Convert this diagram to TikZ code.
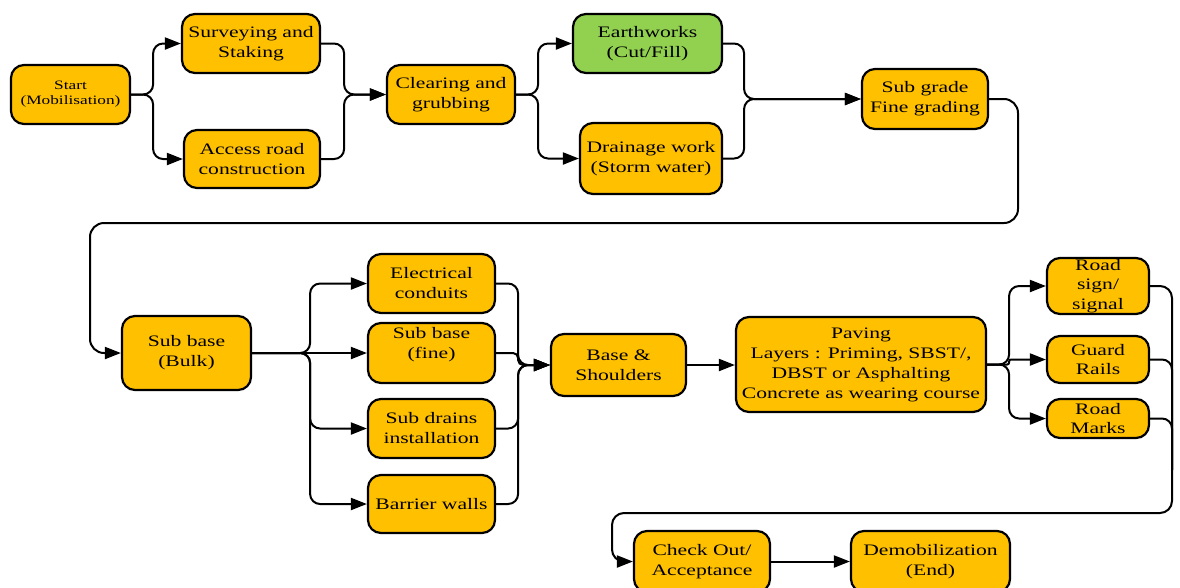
\documentclass[tikz,border=0pt]{standalone}
\usepackage{fontspec}
\setmainfont{Liberation Serif}[FakeStretch=1.35]
\usetikzlibrary{arrows.meta}
\definecolor{boxorange}{RGB}{255,192,0}
\definecolor{boxgreen}{RGB}{146,208,80}
\begin{document}
\begin{tikzpicture}[x=1pt,y=-1pt,
  box/.style={draw=black, line width=2.2pt, fill=boxorange, rounded corners=13pt,
    align=center, inner sep=0pt, text=black, font=\fontsize{16}{20}\selectfont},
  flow/.style={draw=black, line width=2pt, rounded corners=10pt,
    -{Triangle[length=16pt,width=12pt]}},
  link/.style={draw=black, line width=2pt, rounded corners=10pt}]
\useasboundingbox (0,0) rectangle (1180,587);

% ---- first row ----
\node[box, minimum width=119pt, minimum height=59pt, font=\fontsize{12.8}{15}\selectfont]
  (start) at (70.5,94.5) {Start\\(Mobilisation)};
\node[box, minimum width=138pt, minimum height=59pt] (survey) at (251,43.5) {Surveying and\\Staking};
\node[box, minimum width=136pt, minimum height=58pt] (access) at (252,159) {Access road\\construction};
\node[box, minimum width=128pt, minimum height=59pt] (clear) at (451,94.5) {Clearing and\\grubbing};
\node[box, fill=boxgreen, minimum width=149pt, minimum height=59pt] (earth) at (647.5,43.5) {Earthworks\\(Cut/Fill)};
\node[box, minimum width=142pt, minimum height=71pt] (drain) at (651,158.5) {Drainage work\\(Storm water)};
\node[box, minimum width=126pt, minimum height=60pt] (subgrade) at (925,99) {Sub grade\\Fine grading};

% ---- second row ----
\node[box, minimum width=129pt, minimum height=74pt] (bulk) at (186.5,353) {Sub base\\(Bulk)};
\node[box, minimum width=127pt, minimum height=59pt] (elec) at (431.5,283.5) {Electrical\\conduits};
\node[box, minimum width=127pt, minimum height=60pt] (fine) at (431.5,353) {Sub base\\(fine)\\\mbox{}};
\node[box, minimum width=127pt, minimum height=59pt] (drains) at (431.5,428.5) {Sub drains\\installation};
\node[box, minimum width=127pt, minimum height=58pt] (barrier) at (431.5,504) {Barrier walls};
\node[box, minimum width=135pt, minimum height=62pt] (base) at (618.5,365) {Base \&\\Shoulders};
\node[box, minimum width=250pt, minimum height=95pt] (paving) at (861,364.5)
  {Paving\\Layers : Priming, SBST/,\\DBST or Asphalting\\Concrete as wearing course};
\node[box, minimum width=102pt, minimum height=56pt, font=\fontsize{16}{19.5}\selectfont] (sign) at (1098,286) {Road\\sign/\\signal};
\node[box, minimum width=102pt, minimum height=47pt, font=\fontsize{16}{19}\selectfont] (guard) at (1098,359.5) {Guard\\Rails};
\node[box, minimum width=102pt, minimum height=39pt, font=\fontsize{16}{19}\selectfont] (marks) at (1098,418.5) {Road\\Marks};

% ---- third row ----
\node[box, minimum width=136pt, minimum height=61pt] (check) at (702,561.5) {Check Out/\\Acceptance};
\node[box, minimum width=159pt, minimum height=61pt] (demob) at (930.5,561.5) {Demobilization\\(End)};

% ---- connectors, first row ----
\draw[flow] (start.east) -- ++(22,0) |- (survey.west);
\draw[flow] (start.east) -- ++(22,0) |- (access.west);
\draw[flow] (survey.east) -- ++(23,0) |- (clear.west);
\draw[flow] (access.east) -- ++(23,0) |- (clear.west);
\draw[flow] (clear.east) -- ++(22,0) |- (earth.west);
\draw[flow] (clear.east) -- ++(22,0) |- (drain.west);
\draw[flow] (earth.east) -- ++(21,0) |- (subgrade.west);
\draw[flow] (drain.east) -- ++(21,0) |- (subgrade.west);

% return from the first row to the second
\coordinate (loopA) at (1018,223);
\coordinate (loopB) at (90,353);
\draw[flow, rounded corners=14pt] (subgrade.east) -| (loopA) -| (loopB) -- (bulk.west);

% ---- connectors, second row ----
\draw[flow] (bulk.east) -- ++(58,0) |- (elec.west);
\draw[flow] (bulk.east) -- (fine.west);
\draw[flow] (bulk.east) -- ++(58,0) |- (drains.west);
\draw[flow] (bulk.east) -- ++(58,0) |- (barrier.west);
\draw[flow] (elec.east) -- ++(22,0) |- (base.west);
\draw[flow, rounded corners=5pt] (fine.east) -- ++(22,0) |- (base.west);
\draw[flow] (drains.east) -- ++(22,0) |- (base.west);
\draw[flow] (barrier.east) -- ++(22,0) |- (base.west);
\draw[flow] (base.east) -- (paving.west |- base.east);
\draw[flow] (paving.east) -- ++(22,0) |- (sign.west);
\draw[flow, rounded corners=2pt] (paving.east) -- ++(22,0) |- (guard.west);
\draw[flow] (paving.east) -- ++(22,0) |- (marks.west);

% return from the second row to the third
\coordinate (retR) at (1172,513);
\coordinate (retM) at (1172,470);
\coordinate (retL) at (612,561.5);
\draw[flow, rounded corners=12pt] (sign.east) -| (retR) -| (retL) -- (check.west);
\draw[link] (guard.east) -| (retM);
\draw[link] (marks.east) -| (retM);

% ---- connectors, third row ----
\draw[flow] (check) -- (demob);
\end{tikzpicture}
\end{document}
